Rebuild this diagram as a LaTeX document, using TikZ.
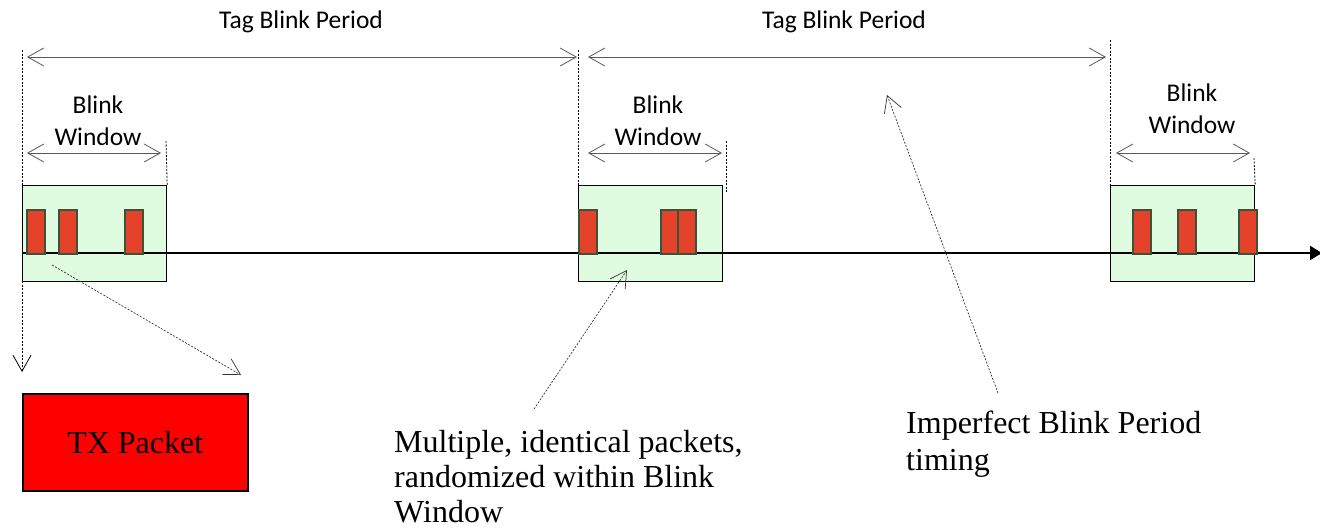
\documentclass[tikz,border=0pt]{standalone}
\usepackage{fontspec}
\setmainfont{Liberation Serif}
\newfontfamily\calfont{Carlito}
\usetikzlibrary{arrows.meta}
\definecolor{winfill}{RGB}{224,252,224}
\definecolor{pktred}{RGB}{229,66,43}
\definecolor{pktedge}{RGB}{58,84,58}
\definecolor{txred}{RGB}{255,0,0}
\begin{document}
\begin{tikzpicture}[x=1pt,y=-1pt,
  lbl/.style={font=\calfont\fontsize{25.5pt}{32pt}\selectfont, inner sep=0pt, align=center},
  note/.style={font=\fontsize{32pt}{35pt}\selectfont, inner sep=0pt, align=left},
  win/.style={draw=black, fill=winfill, line width=1.2pt, inner sep=0pt, minimum width=144pt, minimum height=96pt, anchor=north west},
  pkt/.style={draw=pktedge, fill=pktred, line width=1.8pt, inner sep=0pt, minimum width=18pt, minimum height=44pt, anchor=north west},
  dim/.style={draw=black!65, line width=0.8pt, {Straight Barb[length=16pt,width=18pt]}-{Straight Barb[length=16pt,width=18pt]}},
  guide/.style={draw=black, line width=0.8pt, dash pattern=on 2pt off 1.5pt},
  callout/.style={draw=black!80, line width=0.7pt, dash pattern=on 2pt off 1.5pt, -{Straight Barb[length=16pt,width=18pt]}},
  axis/.style={draw=black, line width=2pt, -{Triangle[length=12pt,width=14pt]}},
]
\useasboundingbox (0,0) rectangle (1320,528);

% blink windows
\node[win] (w1) at (22,185) {};
\node[win] (w2) at (578,185) {};
\node[win] (w3) at (1110,185) {};

% time axis
\coordinate (axs) at (22,253);
\coordinate (axe) at (1322,253);
\draw[axis] (axs) -- (axe);

% packets
\node[pkt] (p11) at (26,209) {};
\node[pkt] (p12) at (58,209) {};
\node[pkt] (p13) at (124,209) {};
\node[pkt] (p21) at (578,209) {};
\node[pkt] (p22) at (660,209) {};
\node[pkt] (p23) at (677,209) {};
\node[pkt] (p31) at (1132,209) {};
\node[pkt] (p32) at (1177,209) {};
\node[pkt] (p33) at (1238,209) {};

% dashed guides
\coordinate (g1t) at (22,50);
\coordinate (g1b) at (22,372);
\coordinate (g2t) at (578,50);
\coordinate (g3t) at (1110,40);
\coordinate (e1t) at (166,141);
\coordinate (e2t) at (726,141);
\coordinate (e2b) at (726,193);
\coordinate (e3t) at (1254,158);
\draw[guide, -{Straight Barb[length=16pt,width=18pt]}] (g1t) -- (g1b);
\draw[guide] (g2t) -- (w2.north west);
\draw[guide] (g3t) -- (w3.north west);
\draw[guide] (e1t) -- (w1.north east);
\draw[guide] (e2t) -- (e2b);
\draw[guide] (e3t) -- (w3.north east);

% Tag Blink Period dimensions
\coordinate (t1a) at (27,57);
\coordinate (t1b) at (577,57);
\coordinate (t2a) at (588,57);
\coordinate (t2b) at (1106,57);
\draw[dim] (t1a) -- (t1b);
\draw[dim] (t2a) -- (t2b);
\node[lbl, anchor=base] (tbp1) at (301,28) {Tag Blink Period};
\node[lbl, anchor=base] (tbp2) at (844,28) {Tag Blink Period};

% Blink Window dimensions
\coordinate (b1a) at (27,153);
\coordinate (b1b) at (161,153);
\coordinate (b2a) at (588,153);
\coordinate (b2b) at (722,153);
\coordinate (b3a) at (1116,153);
\coordinate (b3b) at (1250,153);
\draw[dim] (b1a) -- (b1b);
\draw[dim] (b2a) -- (b2b);
\draw[dim] (b3a) -- (b3b);
\node[lbl, anchor=base] (bw1) at (98,145) {Blink\\Window};
\node[lbl, anchor=base] (bw2) at (658,145) {Blink\\Window};
\node[lbl, anchor=base] (bw3) at (1192,133) {Blink\\Window};

% TX packet
\node[draw=black, fill=txred, line width=1.5pt, minimum width=225pt, minimum height=97pt, anchor=north west, inner sep=0pt,
      font=\fontsize{32pt}{36pt}\selectfont] (tx) at (22,393) {TX Packet};

% notes
\node[note, anchor=base west] (n1) at (394,522) {Multiple, identical packets,\\randomized within Blink\\Window};
\node[note, anchor=base west, font=\fontsize{32pt}{37pt}\selectfont] (n2) at (906,470) {Imperfect Blink Period\\timing};

% callouts
\coordinate (c1s) at (52,265);
\coordinate (c1e) at (241,375);
\coordinate (c2s) at (534,409);
\coordinate (c2e) at (627,270);
\coordinate (c3s) at (998,393);
\coordinate (c3e) at (887,95);
\draw[callout] (c1s) -- (c1e);
\draw[callout] (c2s) -- (c2e);
\draw[callout] (c3s) -- (c3e);
\end{tikzpicture}
\end{document}
